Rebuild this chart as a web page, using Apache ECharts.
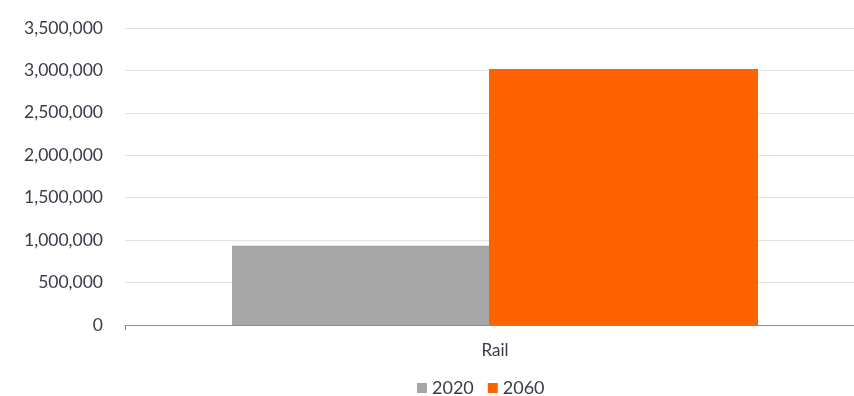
<!DOCTYPE html>
<html>
<head>
<meta charset="utf-8">
<script src="https://cdn.jsdelivr.net/npm/echarts@6/dist/echarts.min.js"></script>
<style>
html,body{margin:0;padding:0;background:#fff;}
#chart{width:854px;height:396px;}
</style>
</head>
<body>
<div id="chart"></div>
<script>
const categories = ['Rail'];
const seriesNames = ['2020', '2060'];
const values2020 = [934000];
const values2060 = [3017000];
const yTicks = [0, 500000, 1000000, 1500000, 2000000, 2500000, 3000000, 3500000];

const font = 'Lato, "Noto Sans", sans-serif';
const textColor = '#3a3a4a';
const chart = echarts.init(document.getElementById('chart'));
chart.setOption({
  animation: false,
  grid: {left: 125, width: 740, top: 28, height: 297, containLabel: false, outerBoundsMode: 'none'},
  legend: {
    top: 374,
    left: 412,
    itemWidth: 10, itemHeight: 10, itemGap: 14,
    icon: 'rect',
    textStyle: {fontFamily: font, fontSize: 18, color: textColor},
    data: seriesNames
  },
  xAxis: {
    type: 'category',
    data: categories,
    axisLine: {lineStyle: {color: '#8c8c8c', width: 1}},
    axisTick: {show: true, length: 5, lineStyle: {color: '#8c8c8c'}},
    axisLabel: {fontFamily: font, fontSize: 17, color: textColor, margin: 17}
  },
  yAxis: {
    type: 'value',
    min: yTicks[0],
    max: yTicks[yTicks.length - 1],
    interval: 500000,
    axisLine: {show: false},
    axisTick: {show: false},
    splitLine: {lineStyle: {color: '#e2e2e2', width: 1}},
    axisLabel: {
      fontFamily: font, fontSize: 17.5, color: textColor, margin: 22,
      formatter: v => v.toLocaleString('en-US')
    }
  },
  series: [
    {name: seriesNames[0], type: 'bar', data: values2020, itemStyle: {color: '#a6a6a6'}, barGap: '0%', barWidth: 257},
    {name: seriesNames[1], type: 'bar', data: values2060, itemStyle: {color: '#ff6200'}, barGap: '0%', barWidth: 269}
  ]
});
</script>
</body>
</html>
